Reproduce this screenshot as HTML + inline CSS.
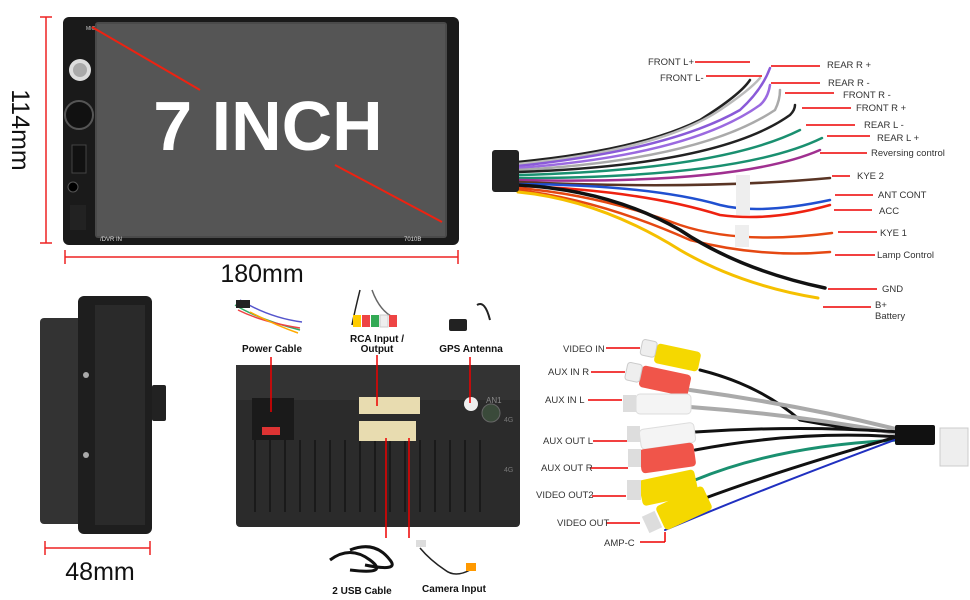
<!DOCTYPE html>
<html><head><meta charset="utf-8"><style>
html,body{margin:0;padding:0;background:#fff}
svg{display:block}
text{font-family:"Liberation Sans",sans-serif}
.l{font-size:9.5px;fill:#333}
.b{font-size:10px;font-weight:bold;fill:#111}
</style></head><body>
<svg width="970" height="600" viewBox="0 0 970 600" xmlns="http://www.w3.org/2000/svg">
<!-- front unit -->
<rect x="63" y="17" width="396" height="228" rx="6" fill="#1a1a1a"/>
<rect x="95" y="22" width="352" height="216" rx="3" fill="#4a4a4a"/>
<rect x="97" y="24" width="348" height="212" fill="#555"/>
<circle cx="80" cy="70" r="11" fill="#ddd"/><circle cx="80" cy="70" r="7" fill="#aaa"/>
<circle cx="79" cy="115" r="14" fill="#111" stroke="#555" stroke-width="2"/>
<rect x="72" y="145" width="14" height="28" fill="#111" stroke="#444"/>
<circle cx="73" cy="187" r="5" fill="#000" stroke="#555"/>
<rect x="70" y="205" width="16" height="25" fill="#222"/>
<text x="86" y="30" font-size="5" fill="#ccc">MIC</text>
<text x="100" y="241" font-size="6" fill="#ddd">/DVR IN</text>
<text x="404" y="241" font-size="6" fill="#ddd">7010B</text>
<line x1="92" y1="27" x2="200" y2="90" stroke="#e21" stroke-width="2"/>
<line x1="335" y1="165" x2="442" y2="222" stroke="#e21" stroke-width="2"/>
<text x="268" y="150" font-size="70" font-weight="bold" fill="#fff" text-anchor="middle">7 INCH</text>
<!-- dimensions -->
<line x1="46" y1="17" x2="46" y2="243" stroke="#e22" stroke-width="1.5"/>
<line x1="40" y1="17" x2="52" y2="17" stroke="#e22" stroke-width="1.5"/>
<line x1="40" y1="243" x2="52" y2="243" stroke="#e22" stroke-width="1.5"/>
<text transform="translate(12,130) rotate(90)" font-size="25" fill="#111" text-anchor="middle">114mm</text>
<line x1="65" y1="257" x2="458" y2="257" stroke="#e22" stroke-width="1.5"/>
<line x1="65" y1="250" x2="65" y2="264" stroke="#e22" stroke-width="1.5"/>
<line x1="458" y1="250" x2="458" y2="264" stroke="#e22" stroke-width="1.5"/>
<text x="262" y="282" font-size="25" fill="#111" text-anchor="middle">180mm</text>
<!-- side view -->
<rect x="40" y="318" width="48" height="206" rx="4" fill="#333"/>
<rect x="78" y="296" width="74" height="238" rx="6" fill="#1e1e1e"/>
<rect x="95" y="305" width="50" height="220" fill="#2a2a2a"/>
<rect x="152" y="385" width="14" height="36" rx="2" fill="#222"/>
<circle cx="86" cy="375" r="3" fill="#aaa"/><circle cx="86" cy="455" r="3" fill="#aaa"/>
<line x1="45" y1="548" x2="150" y2="548" stroke="#e22" stroke-width="1.5"/>
<line x1="45" y1="541" x2="45" y2="555" stroke="#e22" stroke-width="1.5"/>
<line x1="150" y1="541" x2="150" y2="555" stroke="#e22" stroke-width="1.5"/>
<text x="100" y="580" font-size="25" fill="#111" text-anchor="middle">48mm</text>
<!-- back view -->
<rect x="236" y="365" width="284" height="162" rx="4" fill="#2b2b2b"/>
<rect x="236" y="365" width="284" height="35" fill="#333"/>
<g stroke="#1a1a1a" stroke-width="2">
<line x1="255" y1="440" x2="255" y2="512"/><line x1="270" y1="440" x2="270" y2="512"/><line x1="285" y1="440" x2="285" y2="512"/><line x1="300" y1="440" x2="300" y2="512"/><line x1="315" y1="440" x2="315" y2="512"/><line x1="330" y1="440" x2="330" y2="512"/><line x1="345" y1="440" x2="345" y2="512"/><line x1="360" y1="440" x2="360" y2="512"/><line x1="375" y1="440" x2="375" y2="512"/><line x1="390" y1="440" x2="390" y2="512"/><line x1="405" y1="440" x2="405" y2="512"/><line x1="420" y1="440" x2="420" y2="512"/><line x1="435" y1="440" x2="435" y2="512"/><line x1="450" y1="440" x2="450" y2="512"/><line x1="465" y1="440" x2="465" y2="512"/><line x1="480" y1="440" x2="480" y2="512"/>
</g>
<rect x="252" y="398" width="42" height="42" fill="#1a1a1a"/>
<rect x="262" y="427" width="18" height="8" fill="#d33"/>
<rect x="359" y="397" width="41" height="17" fill="#e8dcb0"/><rect x="396" y="397" width="24" height="17" fill="#e8dcb0"/>
<rect x="359" y="421" width="57" height="20" fill="#e8dcb0"/>
<circle cx="471" cy="404" r="7" fill="#eee"/>
<circle cx="491" cy="413" r="9" fill="#3a4a3a" stroke="#666"/>
<text x="486" y="403" font-size="8" fill="#888">AN1</text>
<text x="504" y="422" font-size="7" fill="#777">4G</text><text x="504" y="472" font-size="7" fill="#777">4G</text>
<line x1="271" y1="357" x2="271" y2="412" stroke="#e00" stroke-width="1.5"/>
<line x1="377" y1="355" x2="377" y2="406" stroke="#e00" stroke-width="1.5"/>
<line x1="470" y1="357" x2="470" y2="403" stroke="#e00" stroke-width="1.5"/>
<line x1="386" y1="438" x2="386" y2="538" stroke="#e00" stroke-width="1.5"/>
<line x1="409" y1="438" x2="409" y2="538" stroke="#e00" stroke-width="1.5"/>
<!-- accessories -->
<g stroke-width="1.5" fill="none">
<path d="M235 305 Q260 320 300 330" stroke="#3a6"/><path d="M238 310 Q262 322 300 328" stroke="#e44"/><path d="M240 300 Q270 318 302 322" stroke="#55c"/><path d="M250 312 Q275 325 298 333" stroke="#fa0"/>
<path d="M360 290 Q355 310 352 325" stroke="#222"/><path d="M372 290 Q380 312 395 318" stroke="#666"/>
<path d="M330 560 Q350 545 370 560 Q390 575 350 570" stroke="#111" stroke-width="3"/>
<path d="M350 550 Q375 540 390 560 Q400 572 365 565" stroke="#111" stroke-width="3"/>
<path d="M420 548 Q430 560 445 570 Q455 578 470 570" stroke="#222"/>
<path d="M477 305 Q485 300 490 320" stroke="#222" stroke-width="2"/>
</g>
<rect x="236" y="300" width="14" height="8" fill="#222"/>
<g><rect x="353" y="315" width="8" height="12" fill="#fc0"/><rect x="362" y="315" width="8" height="12" fill="#e44"/><rect x="371" y="315" width="8" height="12" fill="#3a5"/><rect x="380" y="315" width="8" height="12" fill="#eee" stroke="#ccc"/><rect x="389" y="315" width="8" height="12" fill="#e44"/></g>
<rect x="449" y="319" width="18" height="12" rx="2" fill="#222"/>
<rect x="416" y="540" width="10" height="7" fill="#ddd"/>
<rect x="466" y="563" width="10" height="8" fill="#f90"/>
<text class="b" x="272" y="352" text-anchor="middle" font-size="11.5">Power Cable</text>
<text class="b" x="377" y="342" text-anchor="middle">RCA Input /</text>
<text class="b" x="377" y="352" text-anchor="middle">Output</text>
<text class="b" x="471" y="352" text-anchor="middle" font-size="9.5">GPS Antenna</text>
<text class="b" x="362" y="594" text-anchor="middle" font-size="9.5">2 USB Cable</text>
<text class="b" x="454" y="592" text-anchor="middle">Camera Input</text>
<!-- top harness -->
<g fill="none" stroke-width="2.5" stroke-linecap="round">
<path d="M518 162 Q640 150 700 120 Q740 95 750 80" stroke="#222"/>
<path d="M518 164 Q660 150 720 110 Q750 90 760 78" stroke="#bbb"/>
<path d="M518 166 Q670 150 740 110 Q762 90 770 68" stroke="#8a5ad8"/>
<path d="M518 168 Q690 155 760 105 Q768 98 770 85" stroke="#9b6ae0"/>
<path d="M518 170 Q700 160 775 110 Q780 100 780 90" stroke="#aaa"/>
<path d="M518 172 Q720 165 790 115 Q795 110 795 105" stroke="#222"/>
<path d="M518 175 Q720 170 800 130" stroke="#1a9070"/>
<path d="M518 178 Q740 178 822 138" stroke="#1a9070"/>
<path d="M518 180 Q740 185 820 150" stroke="#a03090"/>
<path d="M518 182 Q700 190 830 178" stroke="#5a3525"/>
<path d="M518 184 Q650 185 720 205 Q760 215 830 200" stroke="#2050d0"/>
<path d="M518 186 Q640 190 720 215 Q770 222 830 205" stroke="#e21"/>
<path d="M518 188 Q600 195 680 225 Q740 245 832 233" stroke="#e54812"/>
<path d="M518 190 Q600 200 690 240 Q760 258 830 252" stroke="#e54812"/>
<path d="M518 185 Q610 190 680 230 Q740 270 825 288" stroke="#111" stroke-width="3.5"/>
<path d="M518 192 Q600 200 680 250 Q740 285 818 298" stroke="#f5c000" stroke-width="3"/>
</g>
<rect x="492" y="150" width="27" height="42" rx="3" fill="#222"/>
<rect x="736" y="175" width="14" height="40" fill="#eee"/><rect x="735" y="225" width="14" height="22" fill="#eee"/>
<g stroke="#e00" stroke-width="1.5">
<line x1="695" y1="62" x2="750" y2="62"/><line x1="706" y1="76" x2="762" y2="76"/>
<line x1="771" y1="66" x2="820" y2="66"/><line x1="771" y1="83" x2="820" y2="83"/>
<line x1="785" y1="93" x2="834" y2="93"/><line x1="802" y1="108" x2="851" y2="108"/>
<line x1="806" y1="125" x2="855" y2="125"/><line x1="827" y1="136" x2="870" y2="136"/>
<line x1="820" y1="153" x2="867" y2="153"/><line x1="832" y1="176" x2="850" y2="176"/>
<line x1="835" y1="195" x2="873" y2="195"/><line x1="834" y1="210" x2="872" y2="210"/>
<line x1="838" y1="232" x2="877" y2="232"/><line x1="835" y1="255" x2="875" y2="255"/>
<line x1="828" y1="289" x2="877" y2="289"/><line x1="823" y1="307" x2="871" y2="307"/>
</g>
<g class="l">
<text x="648" y="65">FRONT L+</text><text x="660" y="81">FRONT L-</text>
<text x="827" y="68">REAR R +</text><text x="828" y="86">REAR R -</text>
<text x="843" y="98">FRONT R -</text><text x="856" y="111">FRONT R +</text>
<text x="864" y="128">REAR L -</text><text x="877" y="141">REAR L +</text>
<text x="871" y="156">Reversing control</text><text x="857" y="179">KYE 2</text>
<text x="878" y="198">ANT CONT</text><text x="879" y="214">ACC</text>
<text x="880" y="236">KYE 1</text><text x="877" y="258">Lamp Control</text>
<text x="882" y="292">GND</text><text x="875" y="308">B+</text><text x="875" y="319">Battery</text>
</g>
<!-- RCA harness -->
<g fill="none" stroke-linecap="round">
<path d="M700 370 Q760 385 800 420 Q850 430 900 432" stroke="#111" stroke-width="3"/>
<path d="M690 390 Q800 405 900 430" stroke="#aaa" stroke-width="4"/>
<path d="M690 407 Q800 415 900 434" stroke="#aaa" stroke-width="4"/>
<path d="M695 432 Q800 425 900 432" stroke="#111" stroke-width="3"/>
<path d="M695 450 Q800 430 900 437" stroke="#111" stroke-width="3"/>
<path d="M695 480 Q780 445 900 440" stroke="#1a9070" stroke-width="3"/>
<path d="M700 500 Q780 470 900 436" stroke="#111" stroke-width="3"/>
<path d="M665 530 Q760 490 900 438" stroke="#2030c0" stroke-width="2"/>
</g>
<rect x="895" y="425" width="40" height="20" rx="2" fill="#111"/>
<rect x="940" y="428" width="28" height="38" fill="#eee" stroke="#ccc"/>
<g>
<rect x="655" y="347" width="45" height="20" rx="4" fill="#f5d800" transform="rotate(12 675 357)"/><rect x="640" y="346" width="15" height="16" rx="3" fill="#eee" stroke="#ccc" transform="rotate(12 675 357)"/>
<rect x="640" y="370" width="50" height="22" rx="4" fill="#f0554a" transform="rotate(12 665 381)"/><rect x="625" y="370" width="15" height="18" rx="3" fill="#eee" stroke="#ccc" transform="rotate(12 665 381)"/>
<rect x="636" y="394" width="55" height="20" rx="4" fill="#f4f4f4" stroke="#ddd"/><rect x="623" y="395" width="13" height="17" fill="#ddd"/>
<rect x="640" y="426" width="55" height="20" rx="4" fill="#f4f4f4" stroke="#ddd" transform="rotate(-8 667 436)"/><rect x="627" y="426" width="13" height="16" fill="#ddd"/>
<rect x="640" y="446" width="55" height="24" rx="4" fill="#f0554a" transform="rotate(-8 667 458)"/><rect x="628" y="449" width="13" height="18" fill="#ddd"/>
<rect x="640" y="475" width="57" height="26" rx="4" fill="#f5d800" transform="rotate(-12 667 488)"/><rect x="627" y="480" width="14" height="20" fill="#ddd"/>
<rect x="658" y="495" width="52" height="26" rx="4" fill="#f5d800" transform="rotate(-25 684 508)"/><rect x="645" y="513" width="14" height="18" fill="#ddd" transform="rotate(-25 652 522)"/>
</g>
<g stroke="#e00" stroke-width="1.5">
<line x1="606" y1="348" x2="640" y2="348"/><line x1="591" y1="372" x2="625" y2="372"/>
<line x1="588" y1="400" x2="622" y2="400"/><line x1="593" y1="441" x2="627" y2="441"/>
<line x1="590" y1="468" x2="628" y2="468"/><line x1="592" y1="496" x2="626" y2="496"/>
<line x1="606" y1="523" x2="640" y2="523"/><line x1="640" y1="542" x2="665" y2="542"/><line x1="665" y1="532" x2="665" y2="542"/>
</g>
<g class="l" font-size="9.5">
<text x="563" y="352">VIDEO IN</text><text x="548" y="375">AUX IN R</text>
<text x="545" y="403">AUX  IN L</text><text x="543" y="444">AUX OUT L</text>
<text x="541" y="471">AUX OUT R</text><text x="536" y="498">VIDEO OUT2</text>
<text x="557" y="526">VIDEO OUT</text><text x="604" y="546">AMP-C</text>
</g>
</svg>
</body></html>
